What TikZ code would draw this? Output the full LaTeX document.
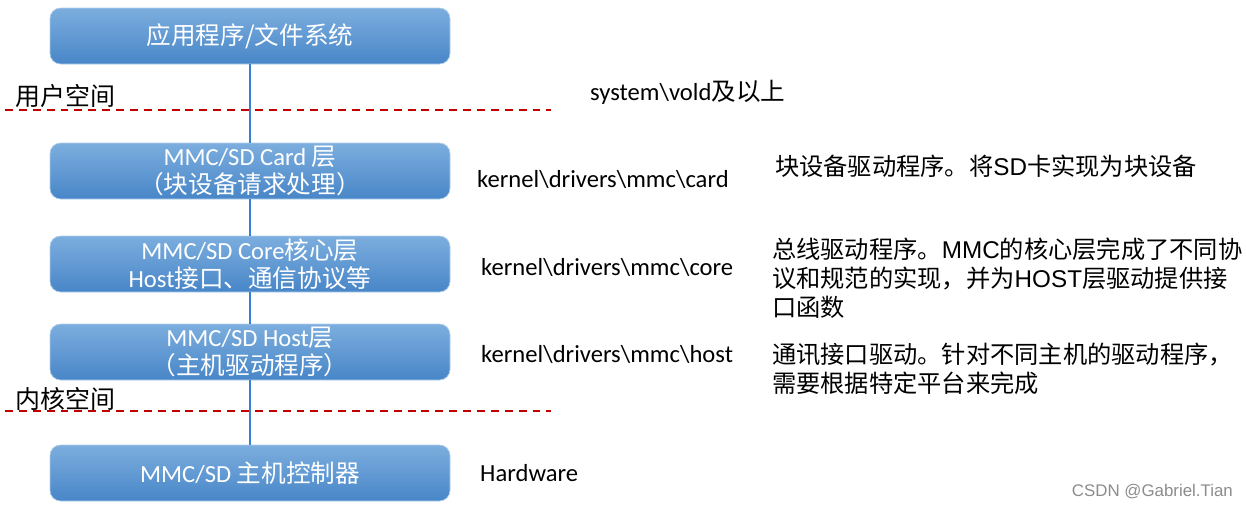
\documentclass[tikz,border=0pt]{standalone}
\usepackage{fontspec}
\setmainfont{Carlito}
\newfontfamily\cjk{Noto Sans CJK SC}
\newfontfamily\calibri{Carlito}
\newfontfamily\arial{Liberation Sans}
\definecolor{boxtop}{RGB}{124,174,222}
\definecolor{boxbottom}{RGB}{72,134,200}
\definecolor{linkblue}{RGB}{58,128,210}
\definecolor{bordred}{RGB}{192,0,0}

\begin{document}
\begin{tikzpicture}[
		box_style/.style={rectangle,rounded corners=6pt,minimum width=8cm,minimum height=1.12cm,inner sep=0pt,top color=boxtop,bottom color=boxbottom,draw=boxtop!60!white,text=white,align=center,font=\cjk\fontsize{14}{16}\selectfont},
		path_style/.style={anchor=west,font=\calibri\fontsize{14}{16}\selectfont},
		note_style/.style={anchor=west,align=left,font=\cjk\fontsize{13.8}{16.5}\selectfont},
		space_style/.style={anchor=west,font=\cjk\fontsize{14.2}{16}\selectfont},
		edge_style/.style={draw=linkblue,line width=1.1pt},
		border_style/.style={draw=bordred,line width=1.1pt,dash pattern=on 4.5pt off 3.4pt}]

	\useasboundingbox (0,0) rectangle (24.92,-10.16);

	\node[box_style] (n0) at (5,-0.72) {应用程序/文件系统};
	\node[box_style] (n1) at (5,-3.42) {{\calibri MMC/SD Card} 层\\（块设备请求处理）};
	\node[box_style] (n2) at (5,-5.28) {{\calibri MMC/SD Core}核心层\\{\calibri Host}接口、通信协议等};
	\node[box_style] (n3) at (5,-7.04) {{\calibri MMC/SD Host}层\\（主机驱动程序）};
	\node[box_style] (n4) at (5,-9.46) {{\calibri MMC/SD} 主机控制器};

	\coordinate (u0) at (0.1,-2.2);
	\coordinate (u1) at (11.02,-2.2);
	\coordinate (k0) at (0.1,-8.22);
	\coordinate (k1) at (11.02,-8.22);
	\draw[border_style] (u0) -- (u1);
	\draw[border_style] (k0) -- (k1);
	\node[space_style] (s0) at (0.18,-1.92) {用户空间};
	\node[space_style] (s1) at (0.18,-7.98) {内核空间};

	\draw[edge_style]  (n0) edge node{} (n1);
	\draw[edge_style]  (n1) edge node{} (n2);
	\draw[edge_style]  (n2) edge node{} (n3);
	\draw[edge_style]  (n3) edge node{} (n4);

	\node[path_style] (p0) at (11.68,-1.84) {system\textbackslash vold{\cjk 及以上}};
	\node[path_style] (p1) at (9.42,-3.58) {kernel\textbackslash drivers\textbackslash mmc\textbackslash card};
	\node[path_style] (p2) at (9.5,-5.34) {kernel\textbackslash drivers\textbackslash mmc\textbackslash core};
	\node[path_style] (p3) at (9.5,-7.08) {kernel\textbackslash drivers\textbackslash mmc\textbackslash host};
	\node[path_style] (p4) at (9.48,-9.46) {Hardware};

	\node[note_style] (d1) at (15.38,-3.32) {块设备驱动程序。将{\arial SD}卡实现为块设备};
	\node[note_style] (d2) at (15.32,-5.56) {总线驱动程序。{\arial MMC}的核心层完成了不同协\\议和规范的实现，并为{\arial HOST}层驱动提供接\\口函数};
	\node[note_style] (d3) at (15.32,-7.38) {通讯接口驱动。针对不同主机的驱动程序，\\需要根据特定平台来完成};

	\node[anchor=east,text=black!45,font=\arial\fontsize{9.6}{11}\selectfont] (w0) at (24.78,-9.84) {CSDN @Gabriel.Tian};
\end{tikzpicture}
\end{document}
